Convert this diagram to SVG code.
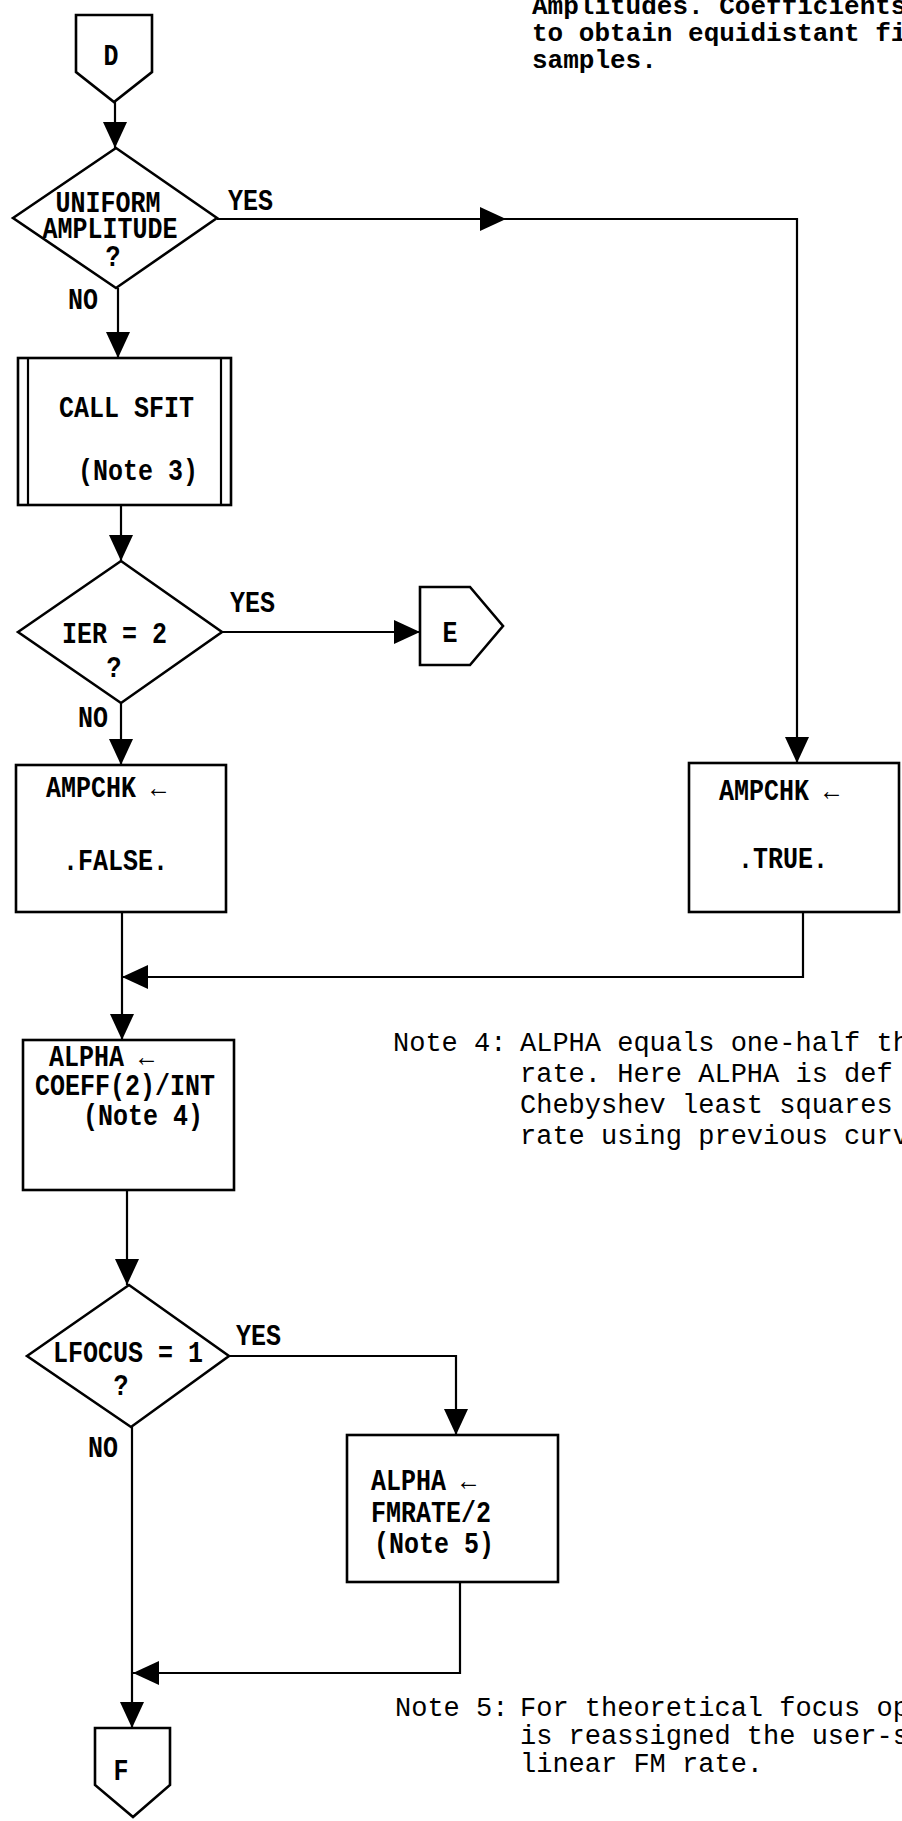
<svg xmlns="http://www.w3.org/2000/svg" width="902" height="1821" viewBox="0 0 902 1821">
<style>
.shape{fill:#fff;stroke:#000;stroke-width:2.6;stroke-linejoin:miter}
.conn{fill:none;stroke:#000;stroke-width:2.2}
.L{font-family:"Liberation Mono","DejaVu Sans Mono",monospace;font-size:25px;font-weight:bold;fill:#000}
.N{font-family:"Liberation Mono","DejaVu Sans Mono",monospace;font-size:27px;fill:#000}
.NB{font-family:"Liberation Mono","DejaVu Sans Mono",monospace;font-size:26px;font-weight:bold;fill:#000}
.m{text-anchor:middle}
</style>
<defs>
<marker id="ah" markerUnits="userSpaceOnUse" markerWidth="26" markerHeight="26" refX="26" refY="12" orient="auto">
<path d="M0,0 L26,12 L0,24 Z" fill="#000"/>
</marker>
</defs>
<rect width="902" height="1821" fill="#fff"/>

<g id="note-top">
<text class="NB" x="532" y="14">Amplitudes.  Coefficients</text>
<text class="NB" x="532" y="41">to obtain equidistant fil</text>
<text class="NB" x="532" y="68">samples.</text>
</g>

<g id="connectors">
<line class="conn" x1="115" y1="102" x2="115" y2="148" marker-end="url(#ah)"/>
<line class="conn" x1="217" y1="219" x2="506" y2="219" marker-end="url(#ah)"/>
<polyline class="conn" points="506,219 797,219 797,763" marker-end="url(#ah)"/>
<line class="conn" x1="118" y1="288" x2="118" y2="358" marker-end="url(#ah)"/>
<line class="conn" x1="121" y1="505" x2="121" y2="561" marker-end="url(#ah)"/>
<line class="conn" x1="222" y1="632" x2="420" y2="632" marker-end="url(#ah)"/>
<line class="conn" x1="121" y1="703" x2="121" y2="765" marker-end="url(#ah)"/>
<line class="conn" x1="122" y1="912" x2="122" y2="1040" marker-end="url(#ah)"/>
<polyline class="conn" points="803,912 803,977 122,977" marker-end="url(#ah)"/>
<line class="conn" x1="127" y1="1190" x2="127" y2="1285" marker-end="url(#ah)"/>
<polyline class="conn" points="229,1356 456,1356 456,1435" marker-end="url(#ah)"/>
<line class="conn" x1="132" y1="1427" x2="132" y2="1728" marker-end="url(#ah)"/>
<polyline class="conn" points="460,1582 460,1673 133,1673" marker-end="url(#ah)"/>
</g>

<g id="D">
<polygon class="shape" points="76,15 152,15 152,72 114,102 76,72"/>
<text class="L m" transform="translate(111,65) scale(1,1.15)">D</text>
</g>

<g id="uniform">
<polygon class="shape" points="13,218 116,148 217,218 116,288"/>
<text class="L m" transform="translate(108,212) scale(1,1.15)">UNIFORM</text>
<text class="L m" transform="translate(110,238) scale(1,1.15)">AMPLITUDE</text>
<text class="L m" transform="translate(113,266) scale(1,1.15)">?</text>
<text class="L" transform="translate(228,210) scale(1,1.15)">YES</text>
<text class="L" transform="translate(68,309) scale(1,1.15)">NO</text>
</g>

<g id="sfit">
<rect class="shape" x="18" y="358" width="213" height="147"/>
<line class="conn" x1="28" y1="358" x2="28" y2="505"/>
<line class="conn" x1="221" y1="358" x2="221" y2="505"/>
<text class="L" transform="translate(59,417) scale(1,1.15)">CALL SFIT</text>
<text class="L" transform="translate(78,480) scale(1,1.15)">(Note 3)</text>
</g>

<g id="ier">
<polygon class="shape" points="18,632 121,561 222,632 121,703"/>
<text class="L" transform="translate(62,643) scale(1,1.15)">IER = 2</text>
<text class="L m" transform="translate(114,677) scale(1,1.15)">?</text>
<text class="L" transform="translate(230,612) scale(1,1.15)">YES</text>
<text class="L" transform="translate(78,727) scale(1,1.15)">NO</text>
</g>

<g id="E">
<polygon class="shape" points="420,587 470,587 503,626 470,665 420,665"/>
<text class="L m" transform="translate(450,642) scale(1,1.15)">E</text>
</g>

<g id="ampfalse">
<rect class="shape" x="16" y="765" width="210" height="147"/>
<text class="L" transform="translate(46,797) scale(1,1.15)">AMPCHK  ←</text>
<text class="L" transform="translate(63,870) scale(1,1.15)">.FALSE.</text>
</g>

<g id="amptrue">
<rect class="shape" x="689" y="763" width="210" height="149"/>
<text class="L" transform="translate(719,800) scale(1,1.15)">AMPCHK  ←</text>
<text class="L" transform="translate(738,868) scale(1,1.15)">.TRUE.</text>
</g>

<g id="alpha1">
<rect class="shape" x="23" y="1040" width="211" height="150"/>
<text class="L" transform="translate(49,1066) scale(1,1.15)">ALPHA  ←</text>
<text class="L" transform="translate(35,1095) scale(1,1.15)">COEFF(2)/INT</text>
<text class="L" transform="translate(83,1125) scale(1,1.15)">(Note 4)</text>
</g>

<g id="note4">
<text class="N" x="393" y="1051">Note 4:</text>
<text class="N" x="520" y="1051">ALPHA equals one-half th</text>
<text class="N" x="520" y="1082">rate.  Here ALPHA is def</text>
<text class="N" x="520" y="1113">Chebyshev least squares</text>
<text class="N" x="520" y="1144">rate using previous curv</text>
</g>

<g id="lfocus">
<polygon class="shape" points="27,1356 129,1285 229,1356 131,1427"/>
<text class="L m" transform="translate(128,1362) scale(1,1.15)">LFOCUS = 1</text>
<text class="L m" transform="translate(121,1395) scale(1,1.15)">?</text>
<text class="L" transform="translate(236,1345) scale(1,1.15)">YES</text>
<text class="L" transform="translate(88,1457) scale(1,1.15)">NO</text>
</g>

<g id="alpha2">
<rect class="shape" x="347" y="1435" width="211" height="147"/>
<text class="L" transform="translate(371,1490) scale(1,1.15)">ALPHA  ←</text>
<text class="L" transform="translate(371,1522) scale(1,1.15)">FMRATE/2</text>
<text class="L" transform="translate(374,1553) scale(1,1.15)">(Note 5)</text>
</g>

<g id="note5">
<text class="N" x="395" y="1716">Note 5:</text>
<text class="N" x="520" y="1716">For theoretical focus op</text>
<text class="N" x="520" y="1744">is reassigned the user-s</text>
<text class="N" x="520" y="1772">linear FM rate.</text>
</g>

<g id="F">
<polygon class="shape" points="95,1728 170,1728 170,1785 133,1817 95,1785"/>
<text class="L m" transform="translate(121,1780) scale(1,1.15)">F</text>
</g>
</svg>
